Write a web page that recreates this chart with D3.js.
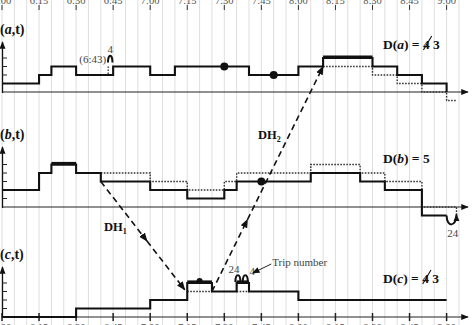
<!DOCTYPE html>
<html>
<head>
<meta charset="utf-8">
<script src="https://cdn.jsdelivr.net/npm/d3@7"></script>
<style>
    body { margin: 0; background: #fff; }
    svg { display: block; font-family: 'Liberation Serif', 'Times New Roman', serif; }
</style>
</head>
<body>
<div id="chart"></div>
<script>
'use strict';

// time in minutes after 6:00
var tickMinutes = [0, 15, 30, 45, 60, 75, 90, 105, 120, 135, 150, 165, 180];
var tickLabels = ['6:00', '6:15', '6:30', '6:45', '7:00', '7:15', '7:30', '7:45', '8:00', '8:15', '8:30', '8:45', '9:00'];

// terminal a
var aTimes = [0, 15, 20, 30, 45, 60, 70, 100, 120, 130, 150, 160, 170, 180];
var aLevels = [1, 2, 3, 2, 3, 2, 3, 2, 3, 4, 3, 2, 1, 0];
var aNewTimes = [130, 150, 160, 170, 180, 184];
var aNewLevels = [3, 2, 1, 0, -1, -1];
var aPeak = [130, 150, 4];
var aDots = [[90, 3], [110, 2]];

// terminal b
var bTimes = [0, 15, 20, 30, 40, 60, 75, 90, 95, 125, 145, 155, 170, 180];
var bLevels = [2, 4, 5, 4, 3, 2, 1, 2, 3, 4, 3, 2, -1, -1];
var bNewTimes = [40, 60, 75, 90, 95, 125, 145, 155, 170, 184];
var bNewLevels = [4, 3, 2, 3, 4, 5, 4, 3, 0, -1];
var bPeak = [20, 30, 5];
var bDots = [[105, 3]];

// terminal c
var cTimes = [0, 30, 60, 75, 85, 95, 100, 120, 180];
var cLevels = [0, 1, 2, 4, 3, 4, 3, 2, 2];
var cPeaks = [[75, 85, 4], [95, 100, 4]];
var cDots = [[80, 4]];

// deadhead trips: [terminal, minute, level]
var dh1 = [['b', 40, 3], ['c', 74, 3.2]];
var dh2 = [['c', 85, 3], ['a', 130, 3]];

var builder = {

    width: 472,
    height: 325,
    unit: 8.5,
    zero: { a: 92, b: 207, c: 317 },
    axisTop: { a: 42, b: 147, c: 267 },

    x: d3.scaleLinear().domain([0, 180]).range([2, 446.6]),

    y: function (p) {
        var z = builder.zero[p];
        return d3.scaleLinear().domain([0, 1]).range([z, z - builder.unit]);
    },

    defs: function (svg) {
        var defs = svg.append('defs');
        defs.append('marker')
            .attr('id', 'arrow')
            .attr('viewBox', '0 0 10 10')
            .attr('refX', 9)
            .attr('refY', 5)
            .attr('markerUnits', 'userSpaceOnUse')
            .attr('markerWidth', 7.5)
            .attr('markerHeight', 7.5)
            .attr('orient', 'auto')
            .append('path')
            .attr('d', 'M0,1 L10,5 L0,9 z')
            .attr('fill', '#111');
        defs.append('marker')
            .attr('id', 'dharrow')
            .attr('viewBox', '0 0 10 10')
            .attr('refX', 9)
            .attr('refY', 5)
            .attr('markerUnits', 'userSpaceOnUse')
            .attr('markerWidth', 9)
            .attr('markerHeight', 9)
            .attr('orient', 'auto')
            .append('path')
            .attr('d', 'M0,1 L10,5 L0,9 z')
            .attr('fill', '#111');
    },

    grid: function (svg) {
        var mins = d3.range(0, 186, 5);
        svg.append('g').selectAll('line')
            .data(mins)
            .enter().append('line')
            .attr('x1', function (d) { return builder.x(d); })
            .attr('x2', function (d) { return builder.x(d); })
            .attr('y1', 0)
            .attr('y2', builder.height)
            .attr('stroke', '#dedede')
            .attr('stroke-width', 1);
    },

    timeAxes: function (svg) {
        var x = builder.x;
        var top = svg.append('g');
        top.selectAll('line')
            .data(tickMinutes)
            .enter().append('line')
            .attr('x1', function (d) { return x(d); })
            .attr('x2', function (d) { return x(d); })
            .attr('y1', 5)
            .attr('y2', 10)
            .attr('stroke', '#333');
        top.selectAll('text')
            .data(tickLabels)
            .enter().append('text')
            .attr('x', function (d, i) { return x(tickMinutes[i]); })
            .attr('y', 3.5)
            .attr('text-anchor', 'middle')
            .attr('font-size', '10.5px')
            .attr('fill', '#555')
            .text(function (d) { return d; });

        var z = builder.zero.c;
        var bottom = svg.append('g');
        bottom.selectAll('line')
            .data(tickMinutes)
            .enter().append('line')
            .attr('x1', function (d) { return x(d); })
            .attr('x2', function (d) { return x(d); })
            .attr('y1', z - 4)
            .attr('y2', z + 4)
            .attr('stroke', '#222')
            .attr('stroke-width', 1.5);
        bottom.selectAll('text')
            .data(tickLabels)
            .enter().append('text')
            .attr('x', function (d, i) { return x(tickMinutes[i]); })
            .attr('y', z + 14)
            .attr('text-anchor', 'middle')
            .attr('font-size', '10.5px')
            .attr('fill', '#555')
            .text(function (d) { return d; });
    },

    panelFrame: function (svg, p, maxLevel, name) {
        var y = builder.y(p);
        var z = builder.zero[p];
        var g = svg.append('g');

        g.append('line')
            .attr('x1', 2).attr('x2', 468)
            .attr('y1', z).attr('y2', z)
            .attr('stroke', '#222')
            .attr('stroke-width', 1)
            .attr('marker-end', 'url(#arrow)');

        g.append('line')
            .attr('x1', 2.5).attr('x2', 2.5)
            .attr('y1', z + 1).attr('y2', builder.axisTop[p])
            .attr('stroke', '#111')
            .attr('stroke-width', 1.3)
            .attr('marker-end', 'url(#arrow)');

        g.selectAll('.ytick')
            .data(d3.range(1, maxLevel + 1))
            .enter().append('line')
            .attr('class', 'ytick')
            .attr('x1', 2).attr('x2', 7)
            .attr('y1', function (d) { return y(d); })
            .attr('y2', function (d) { return y(d); })
            .attr('stroke', '#222');

        var label = g.append('text')
            .attr('x', 0)
            .attr('y', builder.axisTop[p] - 8)
            .attr('font-size', '14px')
            .attr('font-weight', 'bold')
            .attr('fill', '#111');
        label.append('tspan').text('(');
        label.append('tspan').attr('font-style', 'italic').text(name);
        label.append('tspan').text(',t)');
    },

    steps: function (svg, p, times, levels, dotted) {
        var y = builder.y(p);
        var line = d3.line()
            .x(function (d) { return builder.x(d[0]); })
            .y(function (d) { return y(d[1]); })
            .curve(d3.curveStepAfter);
        svg.append('path')
            .attr('d', line(d3.zip(times, levels)))
            .attr('fill', 'none')
            .attr('stroke', dotted ? '#333' : '#111')
            .attr('stroke-width', dotted ? 1.4 : 2.1)
            .attr('stroke-dasharray', dotted ? '1.6,1.4' : null);
    },

    peak: function (svg, p, seg) {
        var y = builder.y(p);
        svg.append('line')
            .attr('x1', builder.x(seg[0]))
            .attr('x2', builder.x(seg[1]))
            .attr('y1', y(seg[2]) - 0.8)
            .attr('y2', y(seg[2]) - 0.8)
            .attr('stroke', '#111')
            .attr('stroke-width', 3.6);
    },

    dots: function (svg, p, pts, r) {
        var y = builder.y(p);
        svg.append('g').selectAll('circle')
            .data(pts)
            .enter().append('circle')
            .attr('cx', function (d) { return builder.x(d[0]); })
            .attr('cy', function (d) { return y(d[1]) - (r < 3.5 ? 2 : 0); })
            .attr('r', r)
            .attr('fill', '#111');
    },

    deadhead: function (svg, trip, frac, label, sub, lx, ly) {
        var x = builder.x;
        var p0 = [x(trip[0][1]), builder.y(trip[0][0])(trip[0][2])];
        var p1 = [x(trip[1][1]), builder.y(trip[1][0])(trip[1][2])];
        var m = [p0[0] + (p1[0] - p0[0]) * frac, p0[1] + (p1[1] - p0[1]) * frac];
        [[p0, m], [m, p1]].forEach(function (s) {
            svg.append('line')
                .attr('x1', s[0][0]).attr('y1', s[0][1])
                .attr('x2', s[1][0]).attr('y2', s[1][1])
                .attr('stroke', '#111')
                .attr('stroke-width', 1.6)
                .attr('stroke-dasharray', '6,4')
                .attr('marker-end', 'url(#dharrow)');
        });
        var t = svg.append('text')
            .attr('x', lx)
            .attr('y', ly)
            .attr('font-size', '12.5px')
            .attr('font-weight', 'bold')
            .attr('fill', '#111');
        t.append('tspan').text(label);
        t.append('tspan').attr('font-size', '8px').attr('dy', 3).text(sub);
    },

    deficitLabel: function (svg, name, oldVal, newVal, by) {
        var t = svg.append('text')
            .attr('x', 383)
            .attr('y', by)
            .attr('font-size', '13.5px')
            .attr('font-weight', 'bold')
            .attr('fill', '#111');
        t.append('tspan').text('D(');
        t.append('tspan').attr('font-style', 'italic').text(name);
        t.append('tspan').text(') = ' + oldVal + (newVal !== null ? ' ' + newVal : ''));
        if (newVal !== null) {
            var idx = ('D(' + name + ') = ').length;
            var node = t.node();
            var s = node.getStartPositionOfChar(idx);
            var e = node.getEndPositionOfChar(idx);
            svg.append('line')
                .attr('x1', s.x + 0.5).attr('y1', by + 1)
                .attr('x2', e.x + 2).attr('y2', by - 13)
                .attr('stroke', '#111')
                .attr('stroke-width', 1.1);
        }
    },

    arch: function (svg, cx, base, w, h) {
        svg.append('path')
            .attr('d', 'M' + (cx - w / 2) + ',' + base + ' C' + (cx - w / 2) + ',' + (base - h) + ' ' +
                (cx + w / 2) + ',' + (base - h) + ' ' + (cx + w / 2) + ',' + base)
            .attr('fill', 'none')
            .attr('stroke', '#111')
            .attr('stroke-width', 2);
    },

    note: function (svg, txt, x, y, anchor) {
        svg.append('text')
            .attr('x', x)
            .attr('y', y)
            .attr('text-anchor', anchor || 'start')
            .attr('font-size', '11px')
            .attr('fill', '#444')
            .text(txt);
    },

    buildLayout: function (svg) {
        var x = builder.x;
        var ya = builder.y('a');
        var yb = builder.y('b');
        var yc = builder.y('c');

        builder.defs(svg);
        builder.grid(svg);
        builder.timeAxes(svg);

        builder.panelFrame(svg, 'a', 4, 'a');
        builder.panelFrame(svg, 'b', 5, 'b');
        builder.panelFrame(svg, 'c', 4, 'c');

        // new deficit functions after deadheading
        builder.steps(svg, 'a', aNewTimes, aNewLevels, true);
        builder.steps(svg, 'b', bNewTimes, bNewLevels, true);
        cPeaks.forEach(function (s) {
            builder.steps(svg, 'c', [s[0], s[1]], [s[2] - 1, s[2] - 1], true);
        });

        builder.steps(svg, 'a', aTimes, aLevels, false);
        builder.steps(svg, 'b', bTimes, bLevels, false);
        builder.steps(svg, 'c', cTimes, cLevels, false);

        builder.peak(svg, 'a', aPeak);
        builder.peak(svg, 'b', bPeak);
        cPeaks.forEach(function (s) { builder.peak(svg, 'c', s); });

        builder.dots(svg, 'a', aDots, 4);
        builder.dots(svg, 'b', bDots, 4);
        builder.dots(svg, 'c', cDots, 3);

        builder.deadhead(svg, dh1, 0.55, 'DH', '1', 104, 231);
        builder.deadhead(svg, dh2, 0.32, 'DH', '2', 258, 139);

        builder.deficitLabel(svg, 'a', 4, 3, 49);
        builder.deficitLabel(svg, 'b', 5, null, 163);
        builder.deficitLabel(svg, 'c', 4, 3, 283);

        // trip 4 shifted at 6:43 in terminal a
        svg.append('line')
            .attr('x1', x(43)).attr('x2', x(43))
            .attr('y1', ya(3)).attr('y2', ya(2))
            .attr('stroke', '#333')
            .attr('stroke-width', 1.3)
            .attr('stroke-dasharray', '1.6,1.4');
        builder.arch(svg, x(43) + 2, ya(3) - 4, 4.5, 9);
        builder.note(svg, '(6:43)', x(43) - 2, ya(3) - 4, 'end');
        builder.note(svg, '4', x(43) + 2, ya(3) - 14, 'middle');

        // trips 24 and 4 in terminal c
        builder.arch(svg, x(95.5), yc(4) - 1, 5, 9);
        builder.arch(svg, x(98.5), yc(4) - 1, 5, 9);
        builder.note(svg, '24', x(95.5) - 4, yc(4) - 10, 'middle');
        builder.note(svg, '4', x(98.5) + 7, yc(4) - 8, 'middle');
        svg.append('line')
            .attr('x1', x(109)).attr('y1', yc(4) - 19)
            .attr('x2', x(99.5) + 5).attr('y2', yc(4) - 10)
            .attr('stroke', '#222')
            .attr('stroke-width', 1)
            .attr('marker-end', 'url(#arrow)');
        builder.note(svg, 'Trip number', x(109) + 1, yc(4) - 17);

        // trip 24 leaving terminal b
        svg.append('path')
            .attr('d', 'M' + x(180) + ',' + yb(-1) + ' C' + x(180) + ',' + (yb(-1) + 12) + ' ' +
                x(184) + ',' + (yb(-1) + 12) + ' ' + x(184) + ',' + (yb(-1) - 1))
            .attr('fill', 'none')
            .attr('stroke', '#111')
            .attr('stroke-width', 2)
            .attr('marker-end', 'url(#arrow)');
        builder.note(svg, '24', x(182.5), yb(-1) + 21, 'middle');
    }
};

var svg = d3.select('#chart')
    .append('svg')
    .attr('width', builder.width)
    .attr('height', builder.height);

builder.buildLayout(svg);
</script>
</body>
</html>
